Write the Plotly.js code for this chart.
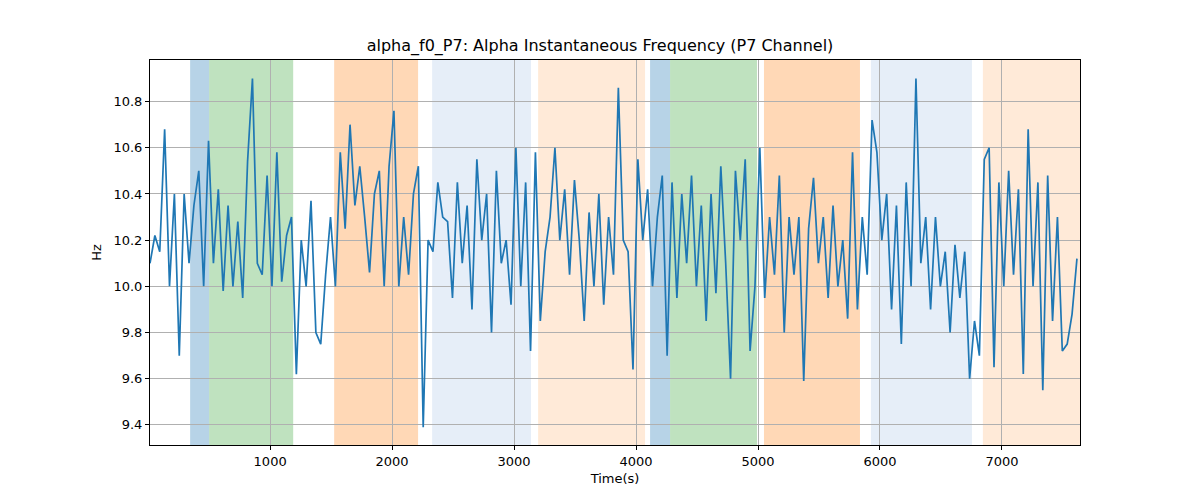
<!DOCTYPE html>
<html>
<head>
<meta charset="utf-8">
<script src="https://cdn.plot.ly/plotly-3.0.1.min.js"></script>
<style>body{margin:0}#chart{width:1200px;height:500px}</style>
</head>
<body>
<div id="chart"></div>
<script>
"use strict"
// series: one sample every 40 s starting at 15
const t0 = 15
const dt = 40
const hz = [10.1,10.22,10.15,10.68,10.0,10.4,9.7,10.4,10.1,10.35,10.5,10.0,10.63,10.1,10.42,9.98,10.35,10.0,10.28,9.95,
  10.54,10.9,10.1,10.05,10.48,10.0,10.58,10.02,10.22,10.3,9.62,10.2,10.0,10.37,9.8,9.75,10.05,10.3,10.0,10.58,
  10.25,10.7,10.35,10.52,10.3,10.06,10.4,10.5,10.0,10.52,10.76,10.0,10.3,10.05,10.4,10.52,9.39,10.2,10.15,10.45,
  10.3,10.28,9.95,10.45,10.1,10.35,9.9,10.55,10.2,10.4,9.8,10.5,10.1,10.2,9.92,10.6,10.0,10.45,9.72,10.58,
  9.85,10.15,10.3,10.6,10.2,10.42,10.05,10.46,10.2,9.85,10.32,10.0,10.4,9.92,10.3,10.05,10.86,10.2,10.15,9.64,
  10.55,10.2,10.42,10.0,10.3,10.48,9.7,10.45,9.95,10.4,10.1,10.48,10.0,10.35,9.85,10.4,9.97,10.52,10.1,9.6,
  10.5,10.2,10.55,9.72,10.0,10.6,9.95,10.3,10.05,10.48,9.8,10.3,10.05,10.3,9.59,10.25,10.47,10.1,10.3,9.95,
  10.35,10.0,10.2,9.86,10.58,9.9,10.3,10.05,10.72,10.58,10.2,10.4,9.9,10.35,9.75,10.45,10.0,10.9,10.1,10.3,
  9.9,10.3,10.0,10.15,9.8,10.18,9.95,10.15,9.6,9.85,9.7,10.55,10.6,9.65,10.45,10.0,10.5,10.05,10.42,9.62,
  10.68,10.0,10.45,9.55,10.48,9.85,10.3,9.72,9.75,9.88,10.12]

// shaded intervals
const bandStart = [344,500,1525,2328,3197,4115,4279,5049,5926,6844]
const bandEnd   = [500,1189,2213,3139,4074,4279,4992,5836,6754,7640]
const bandKind  = ["b","g","o","lb","lo","b","g","o","lb","lo"]
const bandColor = {
  b:"rgba(31,119,180,0.32)", g:"rgba(44,160,44,0.3)", o:"rgba(255,127,14,0.3)",
  lb:"rgba(31,100,190,0.11)", lo:"rgba(255,127,14,0.16)"
}

const shapes = bandStart.map((s,i)=>({
  type:"rect", xref:"x", yref:"paper", x0:s, x1:bandEnd[i], y0:0, y1:1,
  fillcolor:bandColor[bandKind[i]], line:{width:0}, layer:"below"
}))

const trace = {
  y: hz, x0: t0, dx: dt, type:"scatter", mode:"lines",
  line:{color:"#1f77b4", width:1.7}
}

const axis = {
  showline:true, linecolor:"black", linewidth:1, mirror:true,
  ticks:"outside", ticklen:4, tickcolor:"black",
  showgrid:true, gridcolor:"#b0b0b0", gridwidth:1, zeroline:false,
  tickfont:{size:13, color:"black"}
}

const layout = {
  width:1200, height:500,
  margin:{l:150, r:120, t:60, b:55},
  paper_bgcolor:"white", plot_bgcolor:"white",
  font:{family:"DejaVu Sans", color:"black"},
  showlegend:false,
  title:{text:"alpha_f0_P7: Alpha Instantaneous Frequency (P7 Channel)", font:{size:16}, x:0.5, y:0.92, xanchor:"center"},
  xaxis:Object.assign({}, axis, {range:[15,7640], tickvals:[1000,2000,3000,4000,5000,6000,7000],
    title:{text:"Time(s)", font:{size:13}, standoff:6}}),
  yaxis:Object.assign({}, axis, {range:[9.313,10.98], tickvals:[9.4,9.6,9.8,10.0,10.2,10.4,10.6,10.8],
    ticktext:["9.4","9.6","9.8","10.0","10.2","10.4","10.6","10.8"],
    title:{text:"Hz", font:{size:13}, standoff:8}}),
  shapes:shapes
}

Plotly.newPlot("chart", [trace], layout, {displayModeBar:false, staticPlot:true})
</script>
</body>
</html>
